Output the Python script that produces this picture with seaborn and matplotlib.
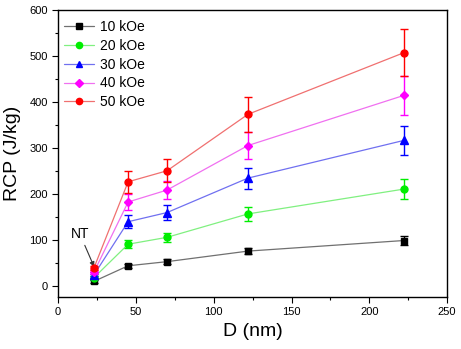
"""
RCP vs particle size D for several applied fields
"""

import pandas as pd
import numpy as np
import seaborn as sns
import matplotlib.pyplot as plt
from matplotlib.lines import Line2D
from matplotlib.ticker import MultipleLocator

sns.set_style('ticks', {'text.color': 'black', 'axes.labelcolor': 'black',
                        'xtick.color': 'black', 'ytick.color': 'black',
                        'axes.edgecolor': 'black'})
plt.rcParams['font.family'] = ['Liberation Sans', 'DejaVu Sans']

# particle size (nm)
D = [23, 45, 70, 122, 222]

fields = ['10 kOe', '20 kOe', '30 kOe', '40 kOe', '50 kOe']

rcp_10 = [9, 43, 52, 75, 98]
rcp_20 = [17, 90, 105, 156, 210]
rcp_30 = [23, 139, 159, 234, 316]
rcp_40 = [29, 182, 208, 305, 414]
rcp_50 = [38, 226, 250, 373, 507]

err_10 = [3, 4, 5, 7, 10]
err_20 = [3, 9, 10, 16, 21]
err_30 = [3, 14, 16, 23, 31]
err_40 = [4, 18, 20, 30, 42]
err_50 = [4, 24, 25, 38, 51]

rcp = [rcp_10, rcp_20, rcp_30, rcp_40, rcp_50]
errs = [err_10, err_20, err_30, err_40, err_50]

colors = ['black', '#00ee00', '#0000ff', '#ff00ff', '#ff0000']
line_colors = ['#707070', '#80f080', '#7070f0', '#f070f0', '#f07070']
markers = ['s', 'o', '^', 'D', 'o']
msizes = [4.5, 5, 5.5, 4.5, 5]

# long table for seaborn
rows = []
for f, vals, ee in zip(fields, rcp, errs):
    for d, v, e in zip(D, vals, ee):
        rows.append({'D': d, 'RCP': v, 'err': e, 'field': f})
df = pd.DataFrame(rows)

fig = plt.figure(figsize=(4.61, 3.49), dpi=100)
ax = fig.add_axes([0.126, 0.149, 0.844, 0.822])

sns.lineplot(data=df, x='D', y='RCP', hue='field', palette=line_colors,
             linewidth=0.9, legend=False, ax=ax, zorder=1)

for f, c, m, ms in zip(fields, colors, markers, msizes):
    sub = df[df['field'] == f]
    ax.errorbar(sub['D'], sub['RCP'], yerr=sub['err'], fmt=m, color=c,
                markersize=ms, elinewidth=1, capsize=3, capthick=1, zorder=3)

handles = [Line2D([], [], color=lc, lw=0.9, marker=m, markersize=ms - 0.5,
                  markerfacecolor=c, markeredgecolor=c)
           for lc, c, m, ms in zip(line_colors, colors, markers, msizes)]
ax.legend(handles, fields, loc='upper left', frameon=False, fontsize=10,
          handlelength=2.2, handletextpad=0.4, labelspacing=0.35,
          borderaxespad=0.3, bbox_to_anchor=(-0.01, 1.0))

ax.annotate('NT', xy=(23.5, 38), xytext=(8, 104), fontsize=10,
            arrowprops=dict(arrowstyle='-|>', color='#333333', lw=0.8,
                            mutation_scale=7, shrinkA=1, shrinkB=1))

ax.set_xlim(0, 250)
ax.set_ylim(-25, 600)
ax.xaxis.set_major_locator(MultipleLocator(50))
ax.xaxis.set_minor_locator(MultipleLocator(25))
ax.yaxis.set_major_locator(MultipleLocator(100))
ax.yaxis.set_minor_locator(MultipleLocator(50))
ax.tick_params(which='both', direction='out', labelsize=8, width=0.8)
ax.tick_params(which='major', length=4)
ax.tick_params(which='minor', length=2.5)
for s in ax.spines.values():
    s.set_visible(True)
    s.set_linewidth(1.0)
    s.set_color('black')

ax.set_xlabel('D (nm)', fontsize=14)
ax.set_ylabel('RCP (J/kg)', fontsize=14, labelpad=6)

fig.savefig('out.png', dpi=100)
